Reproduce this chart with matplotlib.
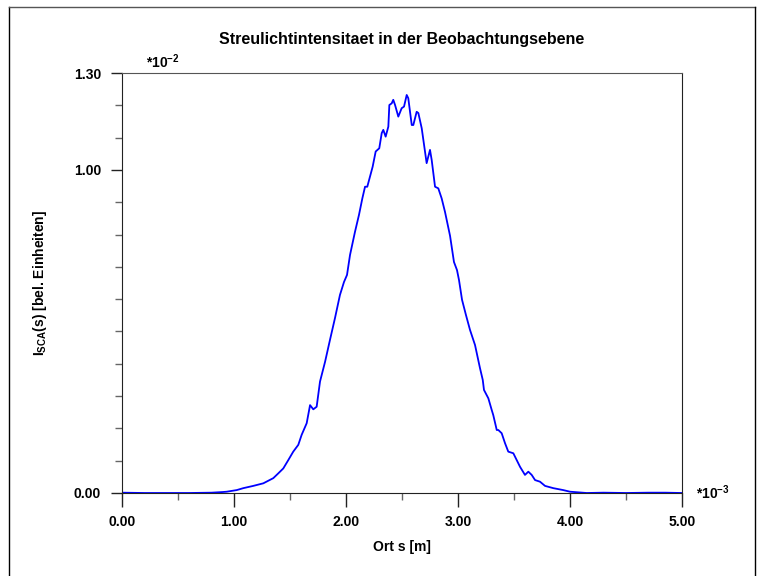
import matplotlib
matplotlib.use("Agg")
import matplotlib.pyplot as plt
from matplotlib.lines import Line2D
from matplotlib.ticker import MultipleLocator, FixedLocator

plt.rcParams["font.family"] = ["Liberation Sans", "DejaVu Sans"]
plt.rcParams["font.weight"] = "bold"
plt.rcParams["mathtext.fontset"] = "custom"
plt.rcParams["mathtext.rm"] = "Liberation Sans:bold"
plt.rcParams["mathtext.it"] = "Liberation Sans:bold"
plt.rcParams["mathtext.bf"] = "Liberation Sans:bold"

# position s in units of 1e-3 m
ort_s = [
    0.00, 0.20, 0.40, 0.60, 0.80, 0.90, 0.935, 1.024, 1.083, 1.172, 1.262,
    1.351, 1.396, 1.440, 1.485, 1.529, 1.574, 1.604, 1.649, 1.679, 1.708,
    1.738, 1.768, 1.813, 1.857, 1.902, 1.946, 1.982, 2.009, 2.036, 2.080,
    2.116, 2.146, 2.170, 2.190, 2.214, 2.238, 2.265, 2.297, 2.319, 2.333,
    2.354, 2.378, 2.387, 2.408, 2.422, 2.438, 2.467, 2.497, 2.518, 2.542,
    2.556, 2.587, 2.601, 2.631, 2.646, 2.676, 2.720, 2.750, 2.765, 2.795,
    2.824, 2.854, 2.884, 2.929, 2.964, 2.991, 3.009, 3.036, 3.071, 3.107,
    3.152, 3.196, 3.221, 3.232, 3.271, 3.301, 3.315, 3.346, 3.360, 3.390,
    3.420, 3.449, 3.494, 3.524, 3.554, 3.598, 3.628, 3.658, 3.688, 3.732,
    3.777, 3.851, 3.940, 4.000, 4.149, 4.300, 4.500, 4.700, 4.850, 5.000,
]
# scattered light intensity in units of 1e-2
intensitaet = [
    0.001, 0.000, 0.000, 0.000, 0.001, 0.003, 0.004, 0.009, 0.015, 0.022, 0.030,
    0.046, 0.061, 0.076, 0.102, 0.128, 0.149, 0.180, 0.216, 0.272, 0.259,
    0.267, 0.345, 0.406, 0.474, 0.542, 0.613, 0.653, 0.675, 0.737, 0.808,
    0.861, 0.912, 0.948, 0.948, 0.979, 1.010, 1.057, 1.067, 1.114, 1.124,
    1.103, 1.134, 1.201, 1.206, 1.217, 1.201, 1.165, 1.191, 1.196, 1.232,
    1.222, 1.139, 1.139, 1.180, 1.176, 1.129, 1.021, 1.062, 1.031, 0.948,
    0.943, 0.912, 0.870, 0.796, 0.715, 0.690, 0.659, 0.598, 0.551, 0.505,
    0.458, 0.387, 0.350, 0.319, 0.293, 0.257, 0.241, 0.195, 0.195, 0.185,
    0.154, 0.128, 0.123, 0.102, 0.081, 0.056, 0.066, 0.056, 0.040, 0.035,
    0.022, 0.015, 0.009, 0.004, 0.000, 0.001, 0.000, 0.001, 0.001, 0.000,
]

x_ticks = [0.0, 1.0, 2.0, 3.0, 4.0, 5.0]
y_ticks = [0.0, 1.0, 1.3]

fig = plt.figure(figsize=(7.57, 5.76), dpi=100)
ax = fig.add_axes([122 / 757, 83 / 576, 560 / 757, 420 / 576])

ax.plot(ort_s, intensitaet, color="#0000ff", lw=1.3)

ax.set_xlim(0, 5.0)
ax.set_ylim(0, 1.3)
ax.xaxis.set_major_locator(FixedLocator(x_ticks))
ax.xaxis.set_minor_locator(MultipleLocator(0.5))
ax.yaxis.set_major_locator(FixedLocator(y_ticks))
ax.yaxis.set_minor_locator(MultipleLocator(0.1))
ax.set_xticklabels([f"{v:.2f}" for v in x_ticks])
ax.set_yticklabels([f"{v:.2f}" for v in y_ticks])
ax.tick_params(which="major", direction="out", length=10, width=1,
               labelsize=10, pad=6, color="#222222")
ax.tick_params(which="minor", direction="out", length=5, width=1,
               color="#666666")
ax.tick_params(axis="y", which="major", length=8, pad=7)

for side in ["left", "bottom", "right"]:
    ax.spines[side].set_color("#222222")
ax.spines["top"].set_color("#555555")

ax.set_title("Streulichtintensitaet in der Beobachtungsebene",
             fontsize=11.5, fontweight="bold", pad=21)
ax.set_xlabel("Ort s [m]", fontsize=10, fontweight="bold", labelpad=8)
ax.set_ylabel(r"$I_{SCA}$(s) [bel. Einheiten]", fontsize=10,
              fontweight="bold", labelpad=18)

# exponent markers
ax.text(0.043, 1.004, r"*10$^{-2}$", transform=ax.transAxes,
        fontsize=10, fontweight="bold", ha="left", va="bottom")
ax.text(1.025, 0.0, r"*10$^{-3}$", transform=ax.transAxes,
        fontsize=10, fontweight="bold", ha="left", va="center")

# outer frame
fx0, fx1 = 9 / 757, 755 / 757
fy1 = 1 - 7 / 576
fig.add_artist(Line2D([fx0, fx0], [0, fy1], color="black", lw=1))
fig.add_artist(Line2D([fx0, fx1], [fy1, fy1], color="#555555", lw=1))
fig.add_artist(Line2D([fx1, fx1], [0, fy1], color="black", lw=1))

fig.savefig("out.png", dpi=100)
